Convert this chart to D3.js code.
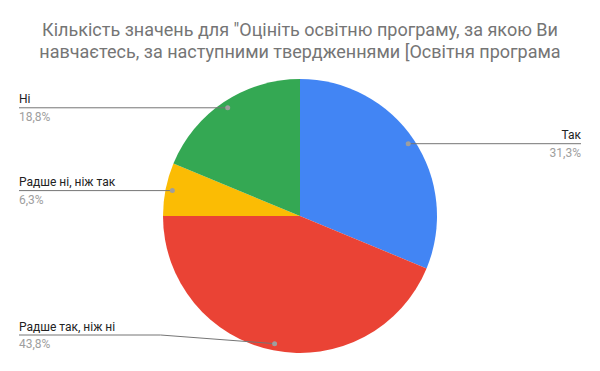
<!DOCTYPE html>
<html>
<head>
<meta charset="utf-8">
<script src="https://cdn.jsdelivr.net/npm/d3@7"></script>
<style>
  html, body { margin: 0; padding: 0; background: #fff; }
  svg { display: block; font-family: Roboto, Arial, sans-serif; }
</style>
</head>
<body>
<div id="root"></div>
<script>
const titleLines = [
  "Кількість значень для \"Оцініть освітню програму, за якою Ви",
  "навчаєтесь, за наступними твердженнями [Освітня програма",
];
const categories = ["Так", "Радше так, ніж ні", "Радше ні, ніж так", "Ні"];
const counts = [5, 7, 1, 3];
const percentLabels = ["31,3%", "43,8%", "6,3%", "18,8%"];
const colors = ["#4285f4", "#ea4335", "#fbbc04", "#34a853"];

chart();

function chart() {
  const width = 600;
  const height = 371;
  const cx = 300;
  const cy = 216;
  const radius = 137;
  const labelLeft = 19;
  const labelRight = 581;

  const svg = d3.select("#root").append("svg")
    .attr("width", width)
    .attr("height", height);

  svg.append("rect")
    .attr("width", width)
    .attr("height", height)
    .attr("fill", "#fff");

  svg.selectAll("text.title")
    .data(titleLines)
    .join("text")
    .attr("class", "title")
    .attr("x", width / 2)
    .attr("y", (d, i) => 36 + i * 22)
    .attr("text-anchor", "middle")
    .attr("fill", "#757575")
    .attr("font-size", 18)
    .text(d => d);

  const data = categories.map((name, i) => ({
    name,
    value: counts[i],
    pct: percentLabels[i],
    color: colors[i],
  }));

  const pie = d3.pie().sort(null).value(d => d.value);
  const arcs = pie(data);
  const arc = d3.arc().innerRadius(0).outerRadius(radius);
  const dotArc = d3.arc().innerRadius(radius * 0.95).outerRadius(radius * 0.95);

  const g = svg.append("g")
    .attr("transform", `translate(${cx},${cy})`);

  g.selectAll("path")
    .data(arcs)
    .join("path")
    .attr("fill", d => d.data.color)
    .attr("d", arc);

  const labels = svg.append("g");

  arcs.forEach(d => {
    const [dx, dy] = dotArc.centroid(d);
    const px = cx + dx;
    const py = cy + dy;
    const right = px > cx;
    const lineY = Math.min(py, 335);
    const endX = right ? labelRight : labelLeft;
    const points = [[endX, lineY]];
    if (lineY !== py) {
      points.push([px + (right ? 114 : -114), lineY]);
    }
    points.push([px, py]);

    labels.append("path")
      .attr("d", d3.line()(points))
      .attr("fill", "none")
      .attr("stroke", "#757575")
      .attr("stroke-width", 1);

    labels.append("circle")
      .attr("cx", px)
      .attr("cy", py)
      .attr("r", 2.5)
      .attr("fill", "#9e9e9e");

    labels.append("text")
      .attr("x", endX)
      .attr("y", lineY - 4.5)
      .attr("text-anchor", right ? "end" : "start")
      .attr("font-size", 12)
      .attr("fill", "#222")
      .text(d.data.name);

    labels.append("text")
      .attr("x", endX)
      .attr("y", lineY + 13)
      .attr("text-anchor", right ? "end" : "start")
      .attr("font-size", 12)
      .attr("fill", "#9e9e9e")
      .text(d.data.pct);
  });
}
</script>
</body>
</html>
